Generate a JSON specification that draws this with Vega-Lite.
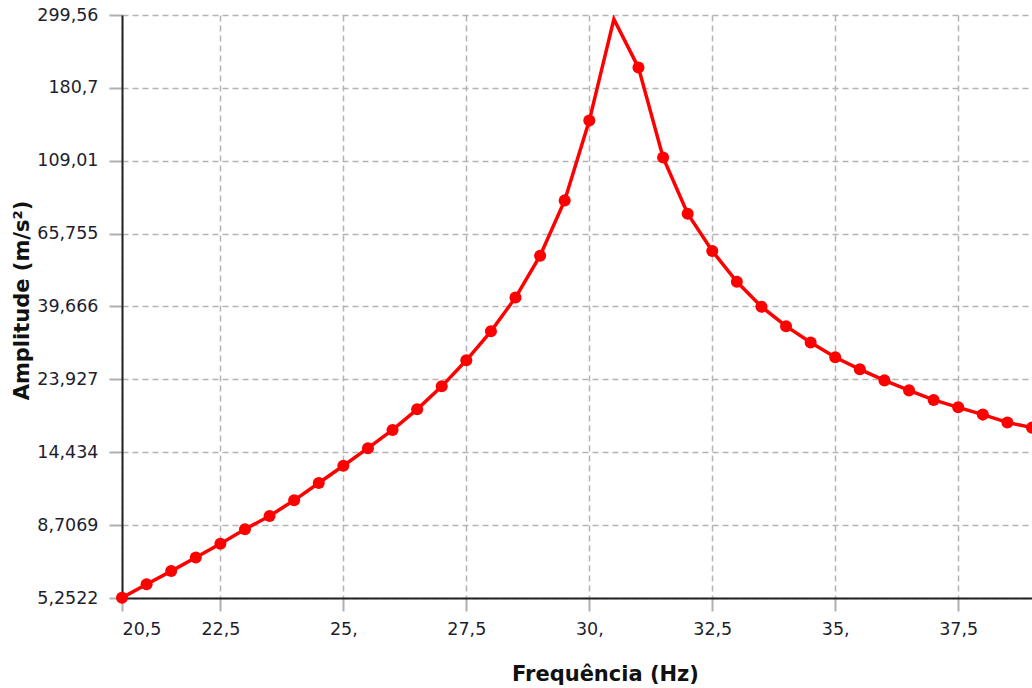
{
  "$schema": "https://vega.github.io/schema/vega-lite/v6.json",
  "autosize": {"type": "none"},
  "width": 910,
  "height": 583,
  "padding": {"left": 122, "top": 15, "right": 0, "bottom": 90},
  "background": "white",
  "config": {
    "view": {"stroke": null},
    "axis": {
      "labelFont": "DejaVu Sans",
      "labelFontSize": 17.5,
      "labelColor": "#1e1e2e",
      "titleFont": "DejaVu Sans",
      "titleFontSize": 21,
      "titleFontWeight": "bold",
      "titleColor": "#111111",
      "domainColor": "#222222",
      "domainWidth": 2,
      "tickColor": "#b0b0b0",
      "tickWidth": 2,
      "tickSize": 13,
      "gridColor": "#b4b4b4",
      "gridDash": [6, 4],
      "gridWidth": 1.5
    }
  },
  "data": {
    "values": [
      {"f": 20.5, "a": 5.26},
      {"f": 21.0, "a": 5.78},
      {"f": 21.5, "a": 6.33},
      {"f": 22.0, "a": 6.96},
      {"f": 22.5, "a": 7.65},
      {"f": 23.0, "a": 8.46},
      {"f": 23.5, "a": 9.28},
      {"f": 24.0, "a": 10.34},
      {"f": 24.5, "a": 11.66},
      {"f": 25.0, "a": 13.14},
      {"f": 25.5, "a": 14.85},
      {"f": 26.0, "a": 16.85},
      {"f": 26.5, "a": 19.44},
      {"f": 27.0, "a": 22.8},
      {"f": 27.5, "a": 27.31},
      {"f": 28.0, "a": 33.39},
      {"f": 28.5, "a": 42.2},
      {"f": 29.0, "a": 56.4},
      {"f": 29.5, "a": 82.8},
      {"f": 30.0, "a": 144.0},
      {"f": 30.5, "a": 291.0},
      {"f": 31.0, "a": 208.0},
      {"f": 31.5, "a": 111.5},
      {"f": 32.0, "a": 75.5},
      {"f": 32.5, "a": 58.3},
      {"f": 33.0, "a": 47.1},
      {"f": 33.5, "a": 39.6},
      {"f": 34.0, "a": 34.6},
      {"f": 34.5, "a": 30.9},
      {"f": 35.0, "a": 27.9},
      {"f": 35.5, "a": 25.65},
      {"f": 36.0, "a": 23.76},
      {"f": 36.5, "a": 22.17},
      {"f": 37.0, "a": 20.75},
      {"f": 37.5, "a": 19.71},
      {"f": 38.0, "a": 18.74},
      {"f": 38.5, "a": 17.75},
      {"f": 39.0, "a": 17.12}
    ]
  },
  "encoding": {
    "x": {
      "field": "f",
      "type": "quantitative",
      "scale": {"domain": [20.5, 39], "nice": false, "zero": false},
      "axis": {
        "title": "Frequência (Hz)",
        "values": [20.5, 22.5, 25, 27.5, 30, 32.5, 35, 37.5],
        "labelExpr": "datum.value == floor(datum.value) ? datum.value + ',' : replace(format(datum.value, '.1f'), '.', ',')",
        "labelPadding": 9,
        "titleX": 483,
        "titleY": 82,
        "titleBaseline": "alphabetic",
        "titleAlign": "center",
        "titleAnchor": null
      }
    },
    "y": {
      "field": "a",
      "type": "quantitative",
      "scale": {"type": "log", "domain": [5.2522, 299.56], "nice": false},
      "axis": {
        "title": "Amplitude (m/s²)",
        "values": [5.2522, 8.7069, 14.434, 23.927, 39.666, 65.755, 109.01, 180.7, 299.56],
        "labelExpr": "replace(format(datum.value, '.5~r'), '.', ',')",
        "labelPadding": 11,
        "titleAngle": -90,
        "titleX": -94,
        "titleY": 285,
        "titleBaseline": "alphabetic",
        "titleAlign": "center",
        "titleAnchor": null
      }
    }
  },
  "layer": [
    {
      "mark": {"type": "line", "color": "#ff0000", "strokeWidth": 3.5, "clip": true}
    },
    {
      "transform": [{"filter": "datum.f != 30.5"}],
      "mark": {"type": "point", "filled": true, "shape": "circle", "color": "#ff0000", "size": 145, "opacity": 1}
    }
  ]
}
